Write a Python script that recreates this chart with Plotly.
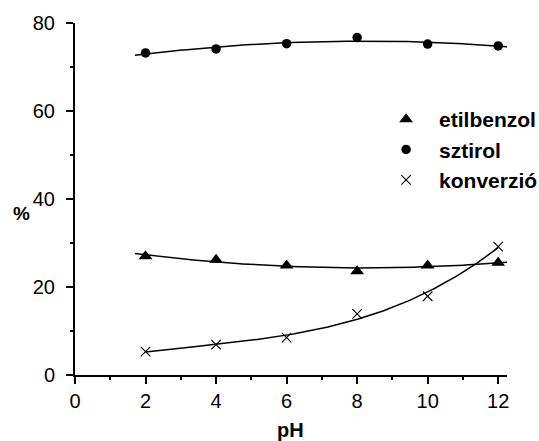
import numpy as np
import plotly.graph_objects as go

ph = [2, 4, 6, 8, 10, 12]
etilbenzol = [27.0, 26.2, 24.9, 23.6, 24.9, 25.5]
sztirol = [73.2, 74.1, 75.3, 76.7, 75.2, 74.8]
konverzio = [5.3, 6.9, 8.5, 13.9, 17.9, 29.2]

FONT = "Arial, Liberation Sans, sans-serif"

fig = go.Figure()

# fitted curves (least squares fits of the data above)
def fit(xs, ys, deg, x0, x1):
    c = np.polyfit(xs, ys, deg)
    xx = np.linspace(x0, x1, 200)
    return xx, np.polyval(c, xx)

for ys, deg, x0, x1 in [(sztirol, 2, 1.7, 12.3), (etilbenzol, 2, 1.7, 12.3), (konverzio, 3, 2.0, 12.0)]:
    xx, yy = fit(ph, ys, deg, x0, x1)
    fig.add_trace(go.Scatter(x=xx, y=yy, mode="lines", line=dict(color="black", width=1.5),
                             showlegend=False, hoverinfo="skip"))

fig.add_trace(go.Scatter(x=ph, y=etilbenzol, mode="markers", name="etilbenzol", legendgroup="a",
                         marker=dict(symbol="triangle-up", size=12, color="black")))
fig.add_trace(go.Scatter(x=ph, y=sztirol, mode="markers", name="sztirol", legendgroup="b",
                         marker=dict(symbol="circle", size=9.5, color="black")))
fig.add_trace(go.Scatter(x=ph, y=konverzio, mode="markers", name="konverzió", legendgroup="c",
                         marker=dict(symbol="x-thin", size=9.5, color="black",
                                     line=dict(color="black", width=1.1))))

fig.update_layout(
    width=539, height=441,
    margin=dict(l=75, r=32, t=23, b=66, autoexpand=False),
    plot_bgcolor="white", paper_bgcolor="white",
    font=dict(family=FONT, size=20, color="black"),
    showlegend=True,
    legend=dict(x=0.69, y=0.784, xanchor="left", yanchor="top", itemwidth=56,
                tracegroupgap=0, bgcolor="rgba(0,0,0,0)",
                font=dict(family=FONT, size=21, color="black", weight="bold")),
    xaxis=dict(range=[0, 12.25], tickmode="array", tickvals=[0, 2, 4, 6, 8, 10, 12],
               ticks="outside", ticklen=7, tickwidth=2, tickcolor="black", automargin=False,
               showline=True, linecolor="black", linewidth=2, showgrid=False, zeroline=False,
               minor=dict(tickvals=[1, 3, 5, 7, 9, 11], ticks="outside", ticklen=3, tickwidth=2,
                          tickcolor="black", showgrid=False),
               tickfont=dict(family=FONT, size=20)),
    yaxis=dict(range=[0, 80], tickmode="array", tickvals=[0, 20, 40, 60, 80],
               ticks="outside", ticklen=7, tickwidth=2, tickcolor="black", automargin=False,
               showline=True, linecolor="black", linewidth=2, showgrid=False, zeroline=False,
               minor=dict(tickvals=[10, 30, 50, 70], ticks="outside", ticklen=3, tickwidth=2,
                          tickcolor="black", showgrid=False),
               tickfont=dict(family=FONT, size=20), ticklabelstandoff=7),
    annotations=[
        dict(text="<b>%</b>", x=-0.125, y=0.46, xref="paper", yref="paper", showarrow=False,
             xanchor="center", yanchor="middle", font=dict(family=FONT, size=19)),
        dict(text="<b>pH</b>", x=0.498, y=-0.156, xref="paper", yref="paper", showarrow=False,
             xanchor="center", yanchor="middle", font=dict(family=FONT, size=20)),
    ],
)

fig.write_html("out.html")
